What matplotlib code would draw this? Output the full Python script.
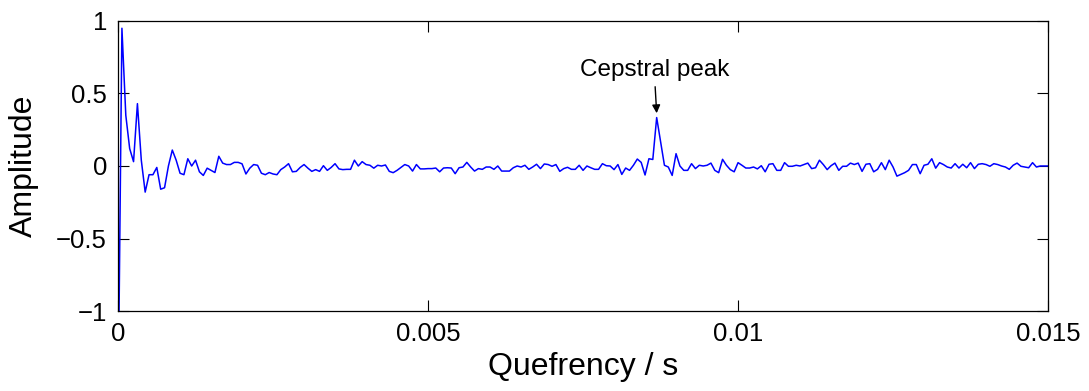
import matplotlib.pyplot as plt
import numpy as np

plt.rcParams['font.family'] = ['Liberation Sans', 'DejaVu Sans']

fs = 16000
# cepstrum amplitude, one value per sample (1/fs spacing)
cep = np.array([
    -1.7, 0.95, 0.35, 0.12, 0.03, 0.43, 0.04, -0.18, -0.06, -0.06,
    -0.01, -0.16, -0.15, 0.0, 0.11, 0.04, -0.05, -0.06, 0.05, 0.0,
    0.04, -0.04, -0.065, -0.015, -0.03, -0.045, 0.067, 0.02, 0.01, 0.01,
    0.025, 0.025, 0.015, -0.055, -0.015, 0.01, 0.005, -0.05, -0.06, -0.045,
    -0.055, -0.06, -0.025, -0.007, 0.016, -0.04, -0.037, -0.01, 0.01, -0.015,
    -0.037, -0.025, -0.037, 0.002, -0.03, -0.01, 0.016, -0.02, -0.025, -0.023,
    -0.023, 0.04, 0.0, 0.03, 0.01, 0.005, -0.015, 0.005, 0.0, 0.007,
    -0.037, -0.046, -0.03, -0.01, 0.01, 0.0, -0.035, 0.01, -0.02, -0.02,
    -0.018, -0.018, -0.014, -0.04, -0.014, -0.012, -0.014, -0.053, -0.012, -0.007,
    0.025, -0.007, -0.035, -0.018, -0.023, -0.007, -0.007, -0.023, 0.0, -0.035,
    -0.035, -0.035, -0.012, 0.0, -0.007, 0.005, -0.023, -0.007, 0.012, -0.018,
    0.014, 0.01, -0.002, 0.01, -0.037, -0.018, -0.009, -0.023, -0.023, 0.005,
    -0.03, 0.0, -0.012, -0.023, -0.023, 0.016, 0.002, 0.0, -0.025, 0.01,
    -0.058, -0.014, -0.03, 0.005, 0.048, 0.025, -0.062, 0.05, 0.045, 0.334,
    0.17, 0.005, -0.007, -0.065, 0.085, 0.0, -0.03, -0.03, 0.016, -0.018,
    0.005, 0.0, 0.005, 0.02, -0.03, -0.046, 0.046, 0.005, -0.025, -0.04,
    0.023, 0.005, -0.014, -0.014, -0.007, -0.02, 0.002, -0.04, 0.012, 0.016,
    -0.03, -0.03, 0.023, -0.002, -0.002, 0.005, 0.0, 0.01, 0.02, -0.018,
    -0.012, 0.04, 0.01, -0.025, 0.002, 0.02, -0.03, -0.002, -0.002, 0.02,
    0.01, 0.02, -0.037, 0.012, 0.016, -0.04, -0.023, 0.023, -0.025, 0.04,
    -0.007, -0.07, -0.058, -0.046, -0.03, 0.01, 0.01, -0.053, 0.005, 0.012,
    0.05, -0.015, 0.023, 0.01, -0.007, -0.014, 0.016, -0.014, 0.012, -0.012,
    0.023, -0.018, 0.012, 0.016, 0.01, -0.002, 0.016, 0.01, 0.0, -0.007,
    -0.023, 0.005, 0.02, -0.002, -0.007, -0.012, 0.023, -0.007, 0.0, 0.0,
    0.0,
])
quefrency = np.arange(len(cep)) / fs

xticks = [0, 0.005, 0.01, 0.015]
xticklabels = ["0", "0.005", "0.01", "0.015"]
yticks = [-1, -0.5, 0, 0.5, 1]
yticklabels = ["\u22121", "\u22120.5", "0", "0.5", "1"]

peak_idx = 139

fig = plt.figure(figsize=(10.89, 3.91), dpi=100)
ax = fig.add_axes([0.1084, 0.2046, 0.8540, 0.7417])

ax.plot(quefrency, cep, color="#0000FF", linewidth=1.1)

ax.set_xlim(0, 0.015)
ax.set_ylim(-1, 1)
ax.set_xticks(xticks)
ax.set_xticklabels(xticklabels)
ax.set_yticks(yticks)
ax.set_yticklabels(yticklabels)
ax.tick_params(direction="in", top=True, right=True, length=8, width=0.8,
               labelsize=18.5, pad=8)
for spine in ax.spines.values():
    spine.set_linewidth(0.9)

ax.set_xlabel("Quefrency / s", fontsize=23, labelpad=4)
ax.set_ylabel("Amplitude", fontsize=23, labelpad=12)

ax.annotate("Cepstral peak",
            xy=(quefrency[peak_idx], cep[peak_idx] + 0.03),
            xytext=(quefrency[peak_idx] - 0.00004, 0.585),
            ha="center", va="bottom", fontsize=17.5,
            arrowprops=dict(arrowstyle="-|>", color="black", lw=1.0,
                            mutation_scale=12, shrinkA=2, shrinkB=0))

fig.savefig("out.png", dpi=100)
